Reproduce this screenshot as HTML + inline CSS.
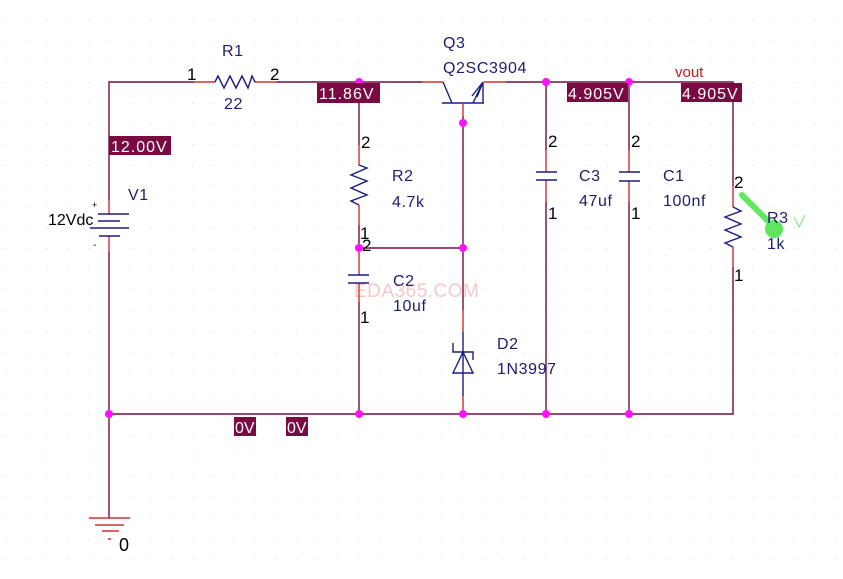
<!DOCTYPE html>
<html><head><meta charset="utf-8"><style>
html,body{margin:0;padding:0;background:#fff;}
svg{display:block;}
text{font-family:"Liberation Sans",Arial,sans-serif;}
.lb{fill:#1c1c70;font-size:16px;letter-spacing:0.6px;}
.pn{fill:#000;font-size:17px;}
.vb{fill:#7a0a42;}
.vt{fill:#fff;font-size:16px;letter-spacing:1px;}
.w{stroke:#6e0f45;stroke-width:1.4;fill:none;}
.r{stroke:#d03030;stroke-width:1.4;fill:none;}
.b{stroke:#1c1c80;stroke-width:1.4;fill:none;}
.d{fill:#ff10ff;}
</style></head><body>
<svg width="843" height="579" viewBox="0 0 843 579" xmlns="http://www.w3.org/2000/svg">
<defs>
<pattern id="g" x="5.25" y="19.75" width="20.75" height="20.75" patternUnits="userSpaceOnUse">
<rect x="0" y="0" width="1" height="1" fill="#d6d6d6"/>
</pattern>
</defs>
<rect width="843" height="579" fill="#fff"/>
<rect width="843" height="579" fill="url(#g)"/>

<!-- watermark -->
<text x="354" y="297" style="font-size:19px;fill:#f6c8c8;letter-spacing:0.5px">EDA365.COM</text>

<!-- wires -->
<path class="w" d="M109 200 V82 H194"/>
<path class="r" d="M194 82 H215 M255 82 H277"/>
<path class="b" d="M215 82 L218 76 L224 88 L230 76 L236 88 L242 76 L248 88 L252 76 L255 82"/>
<path class="w" d="M277 82 H422"/>
<path class="r" d="M422 82 H443"/>
<!-- V1 -->
<path class="r" d="M109 200 V214 M109 236 V252"/>
<path class="w" d="M109 252 V518"/>
<path class="b" d="M98 214 H129 M98 221 H120 M90 228 H129 M99 236 H120"/>
<!-- ground -->
<path class="r" d="M89 518 H130 M95 525 H124 M102 531 H119 M108 539 H111"/>

<!-- bottom wire -->
<path class="w" d="M109 414 H733 V267"/>

<!-- R2 -->
<path class="w" d="M359 82 V145"/>
<path class="r" d="M359 145 V165 M359 205 V225"/>
<path class="b" d="M359 165 L367 168 L351 175 L367 181 L351 188 L367 195 L351 201 L359 205"/>
<path class="w" d="M359 225 V248 H463"/>
<!-- C2 -->
<path class="r" d="M359 248 V275 M359 283 V302"/>
<path class="b" d="M348 275 H369 M348 283 H369"/>
<path class="w" d="M359 302 V414"/>

<!-- Q3 -->
<path class="b" d="M443 82 L452 103 M442 103 H484 M483 82 L473 103 M483 82 V103 M483 82 L472 96 M483 82 L477 97"/>
<path class="r" d="M463 103 V116"/>
<path class="w" d="M463 116 V310"/>
<path class="r" d="M484 82 H506 M463 310 V332 M463 396 V414"/>
<path class="w" d="M506 82 H733 V185"/>
<!-- D2 -->
<path class="b" d="M463 332 V373 M463 373 V396 M453 343 V352 H473 V360 M463 352 L453 373 H473 Z"/>

<!-- C3 -->
<path class="w" d="M546 82 V150 M546 202 V414"/>
<path class="r" d="M546 150 V172 M546 180 V202"/>
<path class="b" d="M536 172 H557 M536 180 H557"/>
<!-- C1 -->
<path class="w" d="M629 82 V150 M629 202 V414"/>
<path class="r" d="M629 150 V172 M629 181 V202"/>
<path class="b" d="M619 172 H640 M619 181 H640"/>
<!-- R3 -->
<path class="r" d="M733 185 V207 M733 247 V267"/>
<path class="b" d="M733 207 L741 211 L725 217 L741 224 L725 230 L741 237 L725 243 L733 247"/>

<!-- junction dots -->
<circle class="d" cx="359" cy="82" r="4"/>
<circle class="d" cx="546" cy="82" r="4"/>
<circle class="d" cx="629" cy="82" r="4"/>
<circle class="d" cx="463" cy="123" r="4"/>
<circle class="d" cx="359" cy="248" r="4"/>
<circle class="d" cx="463" cy="248" r="4"/>
<circle class="d" cx="109" cy="414" r="4"/>
<circle class="d" cx="359" cy="414" r="4"/>
<circle class="d" cx="463" cy="414" r="4"/>
<circle class="d" cx="546" cy="414" r="4"/>
<circle class="d" cx="629" cy="414" r="4"/>

<!-- voltage boxes -->
<rect class="vb" x="109" y="136" width="62" height="19"/>
<text class="vt" x="111" y="152">12.00V</text>
<rect class="vb" x="317" y="83" width="63" height="20"/>
<text class="vt" x="319" y="99">11.86V</text>
<rect class="vb" x="567" y="83" width="61" height="19"/>
<text class="vt" x="568" y="99">4.905V</text>
<rect class="vb" x="681" y="83" width="61" height="19"/>
<text class="vt" x="682" y="99">4.905V</text>
<rect class="vb" x="234" y="417" width="22" height="19"/>
<text class="vt" x="235" y="433" style="letter-spacing:0">0V</text>
<rect class="vb" x="286" y="417" width="22" height="19"/>
<text class="vt" x="287" y="433" style="letter-spacing:0">0V</text>

<!-- labels -->
<text class="lb" x="222" y="56">R1</text>
<text class="lb" x="224" y="109">22</text>
<text class="pn" x="187" y="80">1</text>
<text class="pn" x="270" y="80">2</text>
<text class="lb" x="128" y="200">V1</text>
<text class="pn" x="48" y="225" style="font-size:16px">12Vdc</text>
<text x="92" y="208" style="font-size:9px;fill:#000">+</text>
<text x="93" y="248" style="font-size:10px;fill:#000">-</text>
<text class="pn" x="119" y="551" style="font-size:18px">0</text>

<text class="lb" x="443" y="48">Q3</text>
<text class="lb" x="443" y="73">Q2SC3904</text>

<text class="pn" x="361" y="148">2</text>
<text class="lb" x="392" y="181">R2</text>
<text class="lb" x="392" y="207">4.7k</text>
<text class="pn" x="360" y="239">1</text>
<text class="pn" x="362" y="251">2</text>
<text class="lb" x="393" y="286">C2</text>
<text class="lb" x="393" y="311">10uf</text>
<text class="pn" x="360" y="323">1</text>

<text class="lb" x="497" y="349">D2</text>
<text class="lb" x="497" y="374">1N3997</text>

<text class="pn" x="548" y="147">2</text>
<text class="pn" x="548" y="219">1</text>
<text class="lb" x="579" y="181">C3</text>
<text class="lb" x="579" y="206">47uf</text>

<text class="pn" x="631" y="147">2</text>
<text class="pn" x="631" y="219">1</text>
<text class="lb" x="663" y="181">C1</text>
<text class="lb" x="663" y="206">100nf</text>

<text x="675" y="77" style="font-size:15px;fill:#d01818">vout</text>

<text class="pn" x="734" y="188">2</text>
<text class="pn" x="734" y="281">1</text>

<!-- green probe -->
<line x1="742" y1="195" x2="774" y2="227" stroke="#62e862" stroke-width="6" stroke-linecap="round"/>
<circle cx="774" cy="229" r="9" fill="#5ee65e"/>
<path d="M794 217 L799 227 L805 215" stroke="#7fe07f" stroke-width="1" fill="none"/>
<text class="lb" x="767" y="223">R3</text>
<text class="lb" x="767" y="249">1k</text>
</svg>
</body></html>
